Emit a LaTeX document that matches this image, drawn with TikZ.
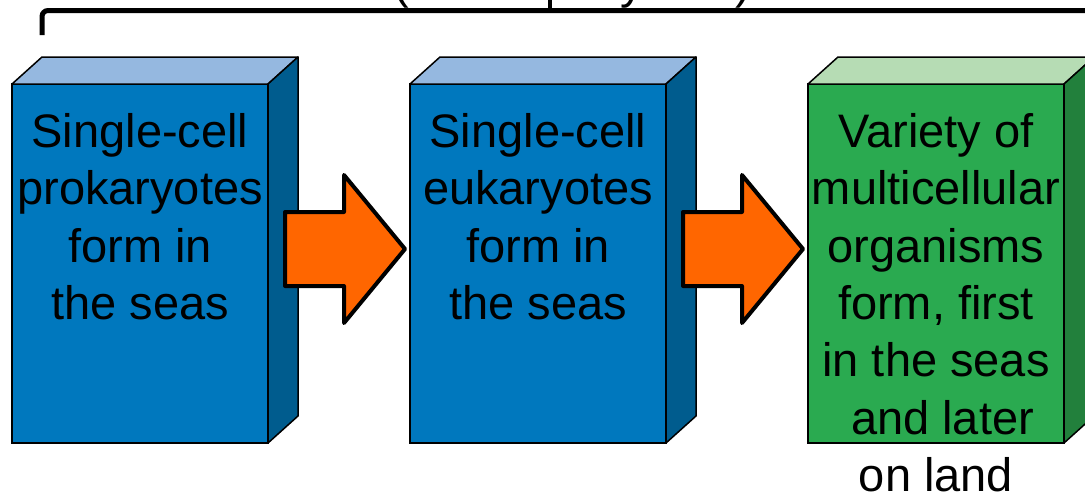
\documentclass[tikz,border=0pt]{standalone}
\usepackage{fontspec}
\setmainfont{Liberation Sans}
\usetikzlibrary{calc}
\definecolor{blueF}{RGB}{0,120,190}
\definecolor{blueT}{RGB}{149,184,224}
\definecolor{blueS}{RGB}{0,92,142}
\definecolor{greenF}{RGB}{42,170,80}
\definecolor{greenT}{RGB}{182,220,180}
\definecolor{greenS}{RGB}{34,128,60}
\definecolor{arrowor}{RGB}{255,102,0}
\tikzset{
  frontface/.style={draw=black, line width=1.5pt, minimum width=256pt, minimum height=359pt, inner sep=0pt, outer sep=0pt},
  face/.style={draw=black, line width=1.5pt, line join=round},
  boxtext/.style={align=center, anchor=north, inner sep=0pt, font=\fontsize{47}{57.4}\selectfont},
  blockarrow/.style={draw=black, fill=arrowor, line width=4pt, line join=round},
  bracket/.style={draw=black, line width=5pt},
}
\newcommand{\mycuboid}[4]{%
  \fill[#3] (#1.north west) -- ++(30,-27) -- ++(256,0) -- (#1.north east) -- cycle;
  \draw[face] (#1.north west) -- ++(30,-27) -- ++(256,0) -- (#1.north east) -- cycle;
  \fill[#4] (#1.north east) -- ++(30,-27) -- ++(0,359) -- (#1.south east) -- cycle;
  \draw[face] (#1.north east) -- ++(30,-27) -- ++(0,359) -- (#1.south east) -- cycle;
}
\begin{document}
\begin{tikzpicture}[x=1pt,y=-1pt]
\useasboundingbox (0,0) rectangle (1085,498);
% bracket above
\node[anchor=base west, inner sep=0pt, font=\fontsize{47}{57.4}\selectfont] (title) at (393,-2) {(3.5 billion years)};
\draw[bracket, rounded corners=6pt] (42,35) -- (42,10.5) -- (1100,10.5);
\draw[bracket, line width=4pt] (550,10.5) -- (550,-5);
% boxes
\node[frontface, fill=blueF] (b1) at (140,263.5) {};
\mycuboid{b1}{}{blueT}{blueS}
\node[frontface, fill=blueF] (b2) at (538,263.5) {};
\mycuboid{b2}{}{blueT}{blueS}
\node[frontface, fill=greenF] (b3) at (936,263.5) {};
\mycuboid{b3}{}{greenT}{greenS}
% texts
\node[boxtext] (t1) at (140,113) {Single-cell\\prokaryotes\\form in\\the seas};
\node[boxtext] (t2) at (538,113) {Single-cell\\eukaryotes\\form in\\the seas};
\node[boxtext] (t3) at (936,113) {Variety of\\multicellular\\organisms\\form, first\\in the seas\\\ and later\\on land};
% arrows
\coordinate (a1) at ($(b1.east)+(17,-14.5)$);
\coordinate (a2) at ($(b2.east)+(17,-14.5)$);
\draw[blockarrow] (a1) -- ++(0,-37) -- ++(59,0) -- ++(0,-37) -- ++(61,74) -- ++(-61,74) -- ++(0,-37) -- ++(-59,0) -- cycle;
\draw[blockarrow] (a2) -- ++(0,-37) -- ++(59,0) -- ++(0,-37) -- ++(61,74) -- ++(-61,74) -- ++(0,-37) -- ++(-59,0) -- cycle;
\end{tikzpicture}
\end{document}
